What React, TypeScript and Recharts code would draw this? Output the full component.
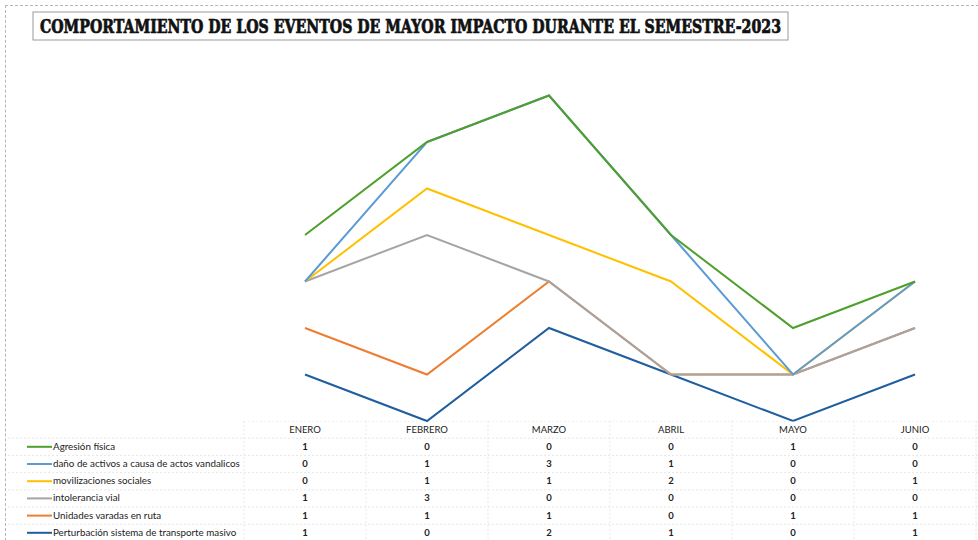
import React from 'react'
import { ComposedChart, Area, XAxis, YAxis } from 'recharts'

const months = ['ENERO', 'FEBRERO', 'MARZO', 'ABRIL', 'MAYO', 'JUNIO']

// series in table order (top row first)
const agresion = [1, 0, 0, 0, 1, 0]
const danoActivos = [0, 1, 3, 1, 0, 0]
const movilizaciones = [0, 1, 1, 2, 0, 1]
const intolerancia = [1, 3, 0, 0, 0, 0]
const unidadesVaradas = [1, 1, 1, 0, 1, 1]
const perturbacion = [1, 0, 2, 1, 0, 1]

const series = [
  { key: 'agresion', name: 'Agresión física', color: '#4f9f2c', values: agresion },
  { key: 'dano', name: 'daño de activos a causa de actos vandalicos', color: '#5b9bd5', values: danoActivos },
  { key: 'movil', name: 'movilizaciones sociales', color: '#ffc000', values: movilizaciones },
  { key: 'intol', name: 'intolerancia vial', color: '#a5a5a5', values: intolerancia },
  { key: 'unidades', name: 'Unidades varadas en ruta', color: '#ed7d31', values: unidadesVaradas },
  { key: 'perturb', name: 'Perturbación sistema de transporte masivo', color: '#1f5e9e', values: perturbacion },
]

const data = months.map((m, i) => {
  const row: Record<string, string | number> = { month: m }
  series.forEach((s) => (row[s.key] = s.values[i]))
  return row
})

const W = 978
const H = 540
const tableLeft = 244
const colW = 122
const headerY = 421
const rowH = 17.2
const cellFont = '"Liberation Sans Narrow", "Lato", sans-serif'

export default function App() {
  // excel stacks bottom-up, so draw the last table row first
  const stackOrder = [...series].reverse()

  return (
    <div style={{ position: 'absolute', left: 0, top: 0, width: W, height: H, background: '#fff', overflow: 'hidden' }}>
      {/* outer frame */}
      <div style={{ position: 'absolute', left: 5, top: 5, width: W, height: H, borderTop: '1px dashed #b5b5b5', borderLeft: '1px dashed #b5b5b5' }} />

      {/* title */}
      <svg width={W} height={50} style={{ position: 'absolute', left: 0, top: 0 }}>
        <rect x={33} y={12} width={755} height={28} fill="#fff" stroke="#9a9a9a" strokeWidth={1} />
        <text
          x={40}
          y={33}
          textLength={741}
          lengthAdjust="spacingAndGlyphs"
          fontFamily='"DejaVu Serif Condensed", "DejaVu Serif", serif'
          fontWeight="bold"
          fontSize={19}
          fill="#111"
          stroke="#111"
          strokeWidth={0.7}
        >
          COMPORTAMIENTO DE LOS EVENTOS DE MAYOR IMPACTO DURANTE EL SEMESTRE-2023
        </text>
      </svg>

      <div style={{ position: 'absolute', left: 0, top: 0 }}>
        <ComposedChart width={W} height={H} data={data} margin={{ top: 49, right: 2, bottom: 119, left: tableLeft }}>
          <XAxis dataKey="month" hide padding={{ left: colW / 2, right: colW / 2 }} />
          <YAxis hide domain={[0, 8]} />
          {stackOrder.map((s) => (
            <Area
              key={s.key}
              type="linear"
              dataKey={s.key}
              name={s.name}
              stackId="total"
              stroke={s.color}
              strokeWidth={2}
              fill="none"
              fillOpacity={0}
              dot={false}
              activeDot={false}
              isAnimationActive={false}
            />
          ))}
        </ComposedChart>
      </div>

      {/* data table */}
      <svg width={W} height={H - headerY} style={{ position: 'absolute', left: 0, top: headerY }}>
        {Array.from({ length: 8 }, (_, i) => (
          <line key={'h' + i} x1={i === 0 ? tableLeft : 8} x2={W} y1={i * rowH} y2={i * rowH} stroke="#e0e0e0" strokeWidth={0.8} strokeDasharray="2 2" />
        ))}
        {Array.from({ length: 7 }, (_, i) => (
          <line key={'v' + i} x1={tableLeft + i * colW} x2={tableLeft + i * colW} y1={0} y2={H - headerY} stroke="#e2e2e2" strokeWidth={0.8} strokeDasharray="2 2" />
        ))}
        {months.map((m, i) => (
          <text key={m} x={tableLeft + colW / 2 + i * colW} y={rowH / 2 + 3} textAnchor="middle" fontFamily={cellFont} fontSize={9.5} fill="#222">
            {m}
          </text>
        ))}
        {series.map((s, r) => {
          const cy = (r + 1) * rowH + rowH / 2
          return (
            <g key={s.key}>
              <line x1={27} x2={52} y1={cy} y2={cy} stroke={s.color} strokeWidth={2} />
              <text x={53} y={cy + 3} fontFamily={cellFont} fontSize={9.8} fill="#222">
                {s.name}
              </text>
              {s.values.map((v, i) => (
                <text key={i} x={tableLeft + colW / 2 + i * colW} y={cy + 3} textAnchor="middle" fontFamily={cellFont} fontSize={9.5} fontWeight="bold" fill="#222">
                  {v}
                </text>
              ))}
            </g>
          )
        })}
      </svg>
    </div>
  )
}
